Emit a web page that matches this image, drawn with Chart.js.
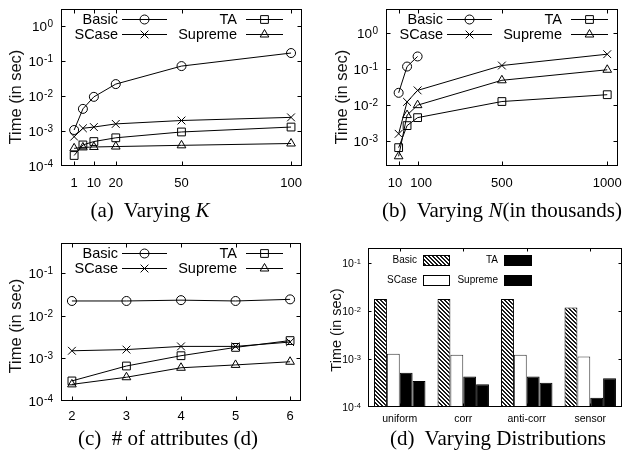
<!DOCTYPE html>
<html><head><meta charset="utf-8">
<script src="https://cdn.jsdelivr.net/npm/chart.js@4/dist/chart.umd.min.js"></script>
<style>
html,body{margin:0;padding:0;background:#fff;}
body{width:632px;height:456px;position:relative;overflow:hidden;font-family:"Liberation Sans",Arial,sans-serif;}
canvas{position:absolute;}
.ytitle{position:absolute;white-space:nowrap;transform:translate(-50%,-50%) rotate(-90deg);font-family:"Liberation Sans",Arial,sans-serif;color:#111;line-height:1;}
.cap{position:absolute;white-space:nowrap;transform:translate(-50%,-50%);font-family:"Liberation Serif","Times New Roman",serif;font-size:21px;color:#000;line-height:1;}
</style></head><body>
<canvas id="ca" width="316" height="200" style="left:0;top:0"></canvas>
<canvas id="cb" width="316" height="200" style="left:316px;top:0"></canvas>
<canvas id="cc" width="316" height="200" style="left:0;top:228px"></canvas>
<canvas id="cd" width="316" height="200" style="left:316px;top:228px"></canvas>
<div class="ytitle" style="left:15px;top:97px;font-size:16.5px">Time (in sec)</div>
<div class="ytitle" style="left:341px;top:97px;font-size:16.5px">Time (in sec)</div>
<div class="ytitle" style="left:15px;top:326px;font-size:16.5px">Time (in sec)</div>
<div class="ytitle" style="left:336px;top:330px;font-size:14.5px">Time (in sec)</div>
<div class="cap" style="left:150px;top:210px">(a)&nbsp; Varying <i>K</i></div>
<div class="cap" style="left:502px;top:210px">(b)&nbsp; Varying <i>N</i>(in thousands)</div>
<div class="cap" style="left:168px;top:438px">(c)&nbsp; # of attributes (d)</div>
<div class="cap" style="left:498px;top:438px">(d)&nbsp; Varying Distributions</div>
<script>
// ---------- data ----------
const seriesNames = ['Basic', 'SCase', 'TA', 'Supreme'];

const kValues   = [1, 5, 10, 20, 50, 100];
const kTicks    = [1, 10, 20, 50, 100];
const kBasic    = [1.07e-3, 4.3e-3, 9.5e-3, 0.022, 0.072, 0.17];
const kSCase    = [6.9e-4, 1.2e-3, 1.3e-3, 1.6e-3, 2.0e-3, 2.46e-3];
const kTA       = [2.0e-4, 4.0e-4, 5.0e-4, 6.4e-4, 9.4e-4, 1.3e-3];
const kSupreme  = [3.2e-4, 3.4e-4, 3.5e-4, 3.6e-4, 3.9e-4, 4.4e-4];

const nValues   = [10, 50, 100, 500, 1000];
const nTicks    = [10, 100, 500, 1000];
const nBasic    = [0.022, 0.118, 0.225];
const nSCase    = [1.6e-3, 0.0123, 0.0257, 0.126, 0.26];
const nTA       = [6.6e-4, 2.7e-3, 4.5e-3, 0.0126, 0.0195];
const nSupreme  = [3.8e-4, 5.3e-3, 0.01, 0.049, 0.096];

const dValues   = [2, 3, 4, 5, 6];
const dTicks    = [2, 3, 4, 5, 6];
const dBasic    = [0.022, 0.022, 0.023, 0.022, 0.024];
const dSCase    = [1.5e-3, 1.6e-3, 1.9e-3, 1.9e-3, 2.4e-3];
const dTA       = [2.95e-4, 6.6e-4, 1.15e-3, 1.8e-3, 2.6e-3];
const dSupreme  = [2.45e-4, 3.6e-4, 6.0e-4, 7.0e-4, 8.3e-4];

const distCategories = ['uniform', 'corr', 'anti-corr', 'sensor'];
const distBasic   = [0.018, 0.018, 0.018, 0.012];
const distSCase   = [1.29e-3, 1.23e-3, 1.23e-3, 1.14e-3];
const distTA      = [5.2e-4, 4.35e-4, 4.35e-4, 1.56e-4];
const distSupreme = [3.5e-4, 3.0e-4, 3.2e-4, 4.0e-4];

// ---------- helpers ----------
const H = Chart.helpers;
const SANS = '"Liberation Sans", Arial, sans-serif';
const markerStyles = ['circle', 'crossRot', 'rect', 'triangle'];
const markerSizes = [4.5, 5.5, 5.5, 5];

function lineDs(i, xs, ys) {
  return {
    label: seriesNames[i],
    data: ys.map((y, j) => ({x: xs[j], y: y})),
    borderColor: '#000', borderWidth: 1, fill: false, tension: 0,
    pointStyle: markerStyles[i], pointRadius: markerSizes[i],
    pointBorderColor: '#000', pointBackgroundColor: 'rgba(0,0,0,0)', pointBorderWidth: 1
  };
}

function hatchPattern() {
  const c = document.createElement('canvas');
  c.width = 4; c.height = 4;
  const g = c.getContext('2d');
  g.fillStyle = '#fff'; g.fillRect(0, 0, 4, 4);
  g.fillStyle = '#1a1a1a';
  for (let i = 0; i < 4; i++) { g.fillRect(i, i, 1, 1); g.fillRect((i + 1) % 4, i, 1, 1); }
  return g.createPattern(c, 'repeat');
}

function gnuPlugin(o) {
  return {
    id: 'gnu',
    afterDraw(chart) {
      const ctx = chart.ctx, a = chart.chartArea, ys = chart.scales.y, xs = chart.scales.x;
      ctx.save();
      ctx.strokeStyle = '#000'; ctx.lineWidth = 1; ctx.fillStyle = '#000';
      const L = Math.round(a.left) + 0.5, R = Math.round(a.right) - 0.5, T = Math.round(a.top) + 0.5, B = Math.round(a.bottom) - 0.5;
      ctx.strokeRect(L, T, R - L, B - T);
      // y ticks & labels
      const lo = Math.ceil(Math.log10(ys.min) - 1e-9), hi = Math.floor(Math.log10(ys.max) + 1e-9);
      for (let e = lo; e <= hi; e++) {
        const y = Math.round(ys.getPixelForValue(Math.pow(10, e))) + 0.5;
        if (y > T + 1 && y < B - 1) {
          ctx.beginPath();
          ctx.moveTo(L, y); ctx.lineTo(L + o.tl, y);
          ctx.moveTo(R, y); ctx.lineTo(R - o.tl, y);
          ctx.stroke();
        }
        const exp = String(e);
        ctx.font = o.expSize + 'px ' + SANS;
        const we = ctx.measureText(exp).width;
        const xr = a.left - o.labelGap;
        ctx.textAlign = 'right'; ctx.textBaseline = 'alphabetic';
        ctx.fillText(exp, xr, y + o.expDy);
        ctx.font = o.baseSize + 'px ' + SANS;
        ctx.textBaseline = 'middle';
        ctx.fillText('10', xr - we - 0.5, y + 0.5);
      }
      // x ticks (mirrored)
      xs.ticks.forEach((t, i) => {
        const x = Math.round(xs.getPixelForTick(i)) + 0.5;
        if (x > L + 1 && x < R - 1) {
          ctx.beginPath();
          ctx.moveTo(x, B); ctx.lineTo(x, B - o.tl);
          ctx.moveTo(x, T); ctx.lineTo(x, T + o.tl);
          ctx.stroke();
        }
      });
      // legend: Basic, TA on row 1; SCase, Supreme on row 2
      const order = [[0, 0, 0], [2, 1, 0], [1, 0, 1], [3, 1, 1]];
      ctx.font = o.legSize + 'px ' + SANS;
      order.forEach(([di, col, row]) => {
        const ds = chart.data.datasets[di];
        const y = a.top + o.rowY[row];
        ctx.fillStyle = '#000'; ctx.textAlign = 'right'; ctx.textBaseline = 'middle';
        ctx.fillText(ds.label, a.left + o.textR[col], y + 0.5);
        if (o.kind === 'line') {
          const x0 = a.left + o.s0[col], x1 = a.left + o.s1[col];
          const yy = Math.round(y) + 0.5;
          ctx.beginPath(); ctx.moveTo(x0, yy); ctx.lineTo(x1, yy); ctx.stroke();
          ctx.fillStyle = 'rgba(0,0,0,0)';
          H.drawPoint(ctx, {pointStyle: ds.pointStyle, radius: ds.pointRadius, borderWidth: 1, rotation: 0}, (x0 + x1) / 2, yy);
        } else {
          const x0 = Math.round(a.left + o.s0[col]) + 0.5, w = o.s1[col] - o.s0[col];
          const y0 = Math.round(y - o.boxH / 2) + 0.5;
          ctx.fillStyle = ds.backgroundColor;
          ctx.fillRect(x0, y0, w, o.boxH);
          ctx.strokeStyle = '#000';
          ctx.strokeRect(x0, y0, w, o.boxH);
        }
      });
      ctx.restore();
    }
  };
}

function lineOptions(p) {
  return {
    responsive: false, animation: false, devicePixelRatio: 1,
    layout: {padding: {top: p.padTop, right: p.padRight, left: 0, bottom: 0}},
    plugins: {legend: {display: false}, tooltip: {enabled: false}},
    scales: {
      x: {
        type: 'linear', min: p.xmin, max: p.xmax,
        afterBuildTicks: s => { s.ticks = p.xticks.map(v => ({value: v})); },
        afterFit: s => { s.height = p.xH; },
        grid: {display: false, drawTicks: false}, border: {display: false},
        ticks: {color: '#000', font: {family: SANS, size: 13}, padding: p.xPad, maxRotation: 0, autoSkip: false,
          callback: p.tickFmt || (v => String(v))}
      },
      y: {
        type: 'logarithmic', min: p.ymin, max: p.ymax,
        afterFit: s => { s.width = p.yW; },
        grid: {display: false, drawTicks: false}, border: {display: false},
        ticks: {display: false}
      }
    }
  };
}

const lineLegend = {kind: 'line', tl: 4, labelGap: 8, baseSize: 13.5, expSize: 10, expDy: 0, legSize: 14.5,
  rowY: [10, 25], textR: [57, 176], s0: [61, 185], s1: [106, 222]};

new Chart(document.getElementById('ca'), {
  type: 'line',
  data: {datasets: [lineDs(0, kValues, kBasic), lineDs(1, kValues, kSCase), lineDs(2, kValues, kTA), lineDs(3, kValues, kSupreme)]},
  options: lineOptions({xmin: -5, xmax: 105, xticks: kTicks, ymin: 1e-4, ymax: Math.pow(10, 0.49), yW: 61, xH: 34, padTop: 9, padRight: 14, xPad: 10}),
  plugins: [gnuPlugin(lineLegend)]
});

new Chart(document.getElementById('cb'), {
  type: 'line',
  data: {datasets: [lineDs(0, nValues, nBasic), lineDs(1, nValues, nSCase), lineDs(2, nValues, nTA), lineDs(3, nValues, nSupreme)]},
  options: lineOptions({xmin: -50, xmax: 1050, xticks: nTicks, ymin: Math.pow(10, -3.69), ymax: Math.pow(10, 0.67), yW: 70, xH: 34, padTop: 9, padRight: 5, xPad: 10,
    tickFmt: v => (v === 10 ? '10  ' : v === 100 ? '  100' : String(v))}),
  plugins: [gnuPlugin(lineLegend)]
});

new Chart(document.getElementById('cc'), {
  type: 'line',
  data: {datasets: [lineDs(0, dValues, dBasic), lineDs(1, dValues, dSCase), lineDs(2, dValues, dTA), lineDs(3, dValues, dSupreme)]},
  options: lineOptions({xmin: 1.8, xmax: 6.2, xticks: dTicks, ymin: 1e-4, ymax: Math.pow(10, -0.3), yW: 61, xH: 27, padTop: 15, padRight: 15, xPad: 8}),
  plugins: [gnuPlugin(lineLegend)]
});

const hatch = hatchPattern();
function barDs(i, vals, bg, bc) {
  return {label: seriesNames[i], data: vals, backgroundColor: bg, borderColor: bc, borderWidth: 1,
    categoryPercentage: 0.81, barPercentage: 1};
}
new Chart(document.getElementById('cd'), {
  type: 'bar',
  data: {labels: distCategories, datasets: [
    barDs(0, distBasic, hatch, '#000'),
    barDs(1, distSCase, '#fff', '#333'),
    barDs(2, distTA, '#000', '#000'),
    barDs(3, distSupreme, '#000', '#000')
  ]},
  options: {
    responsive: false, animation: false, devicePixelRatio: 1,
    layout: {padding: {top: 20, right: 10, left: 0, bottom: 0}},
    plugins: {legend: {display: false}, tooltip: {enabled: false}},
    scales: {
      x: {
        type: 'category', offset: true,
        afterFit: s => { s.height = 21; },
        grid: {display: false, drawTicks: false}, border: {display: false},
        ticks: {color: '#000', font: {family: SANS, size: 10.5}, padding: 6, maxRotation: 0, autoSkip: false}
      },
      y: {
        type: 'logarithmic', min: 1e-4, max: Math.pow(10, -0.68),
        afterFit: s => { s.width = 52; },
        grid: {display: false, drawTicks: false}, border: {display: false},
        ticks: {display: false}
      }
    }
  },
  plugins: [gnuPlugin({kind: 'bar', tl: 3, labelGap: 7, baseSize: 10.5, expSize: 7.5, expDy: 0, legSize: 10,
    rowY: [12, 32], textR: [49, 130], s0: [55, 136], s1: [81, 163], boxH: 10})]
});
</script>
</body></html>
